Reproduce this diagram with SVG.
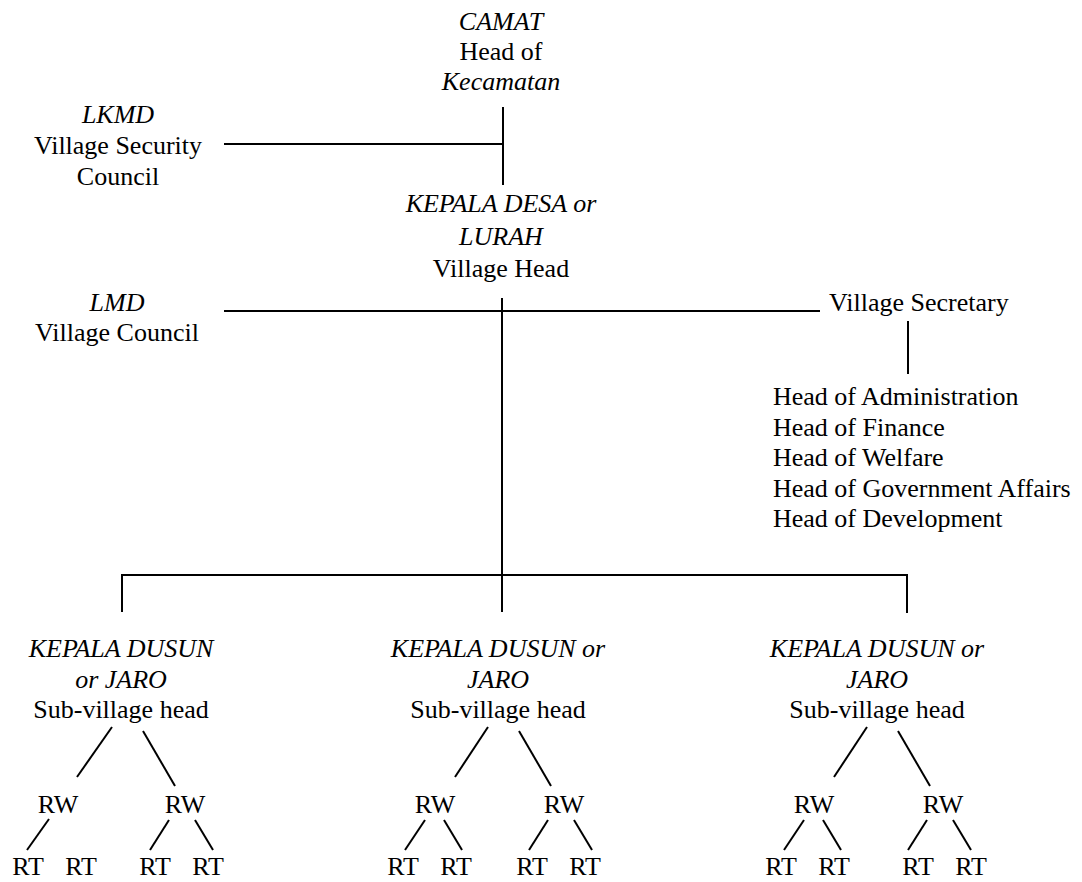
<svg xmlns="http://www.w3.org/2000/svg" width="1082" height="882" viewBox="0 0 1082 882">
<style>
text{font-family:"Liberation Serif","Times New Roman",serif;font-size:26px;fill:#000;text-anchor:middle}
.i{font-style:italic}
.l{text-anchor:start}
.c line{stroke:#000;stroke-width:2;stroke-linecap:butt}
</style>
<rect width="1082" height="882" fill="#fff"/>
<g id="camat">
<text x="501" y="30" class="i">CAMAT</text>
<text x="501" y="60">Head of</text>
<text x="501" y="90" class="i">Kecamatan</text>
</g>
<g id="lkmd">
<text x="118" y="123" class="i">LKMD</text>
<text x="118" y="154">Village Security</text>
<text x="118" y="185">Council</text>
</g>
<g id="kepala-desa">
<text x="501" y="212" class="i">KEPALA DESA or</text>
<text x="501" y="245" class="i">LURAH</text>
<text x="501" y="277">Village Head</text>
</g>
<g id="lmd">
<text x="117" y="311" class="i">LMD</text>
<text x="117" y="341">Village Council</text>
</g>
<g id="secretary">
<text x="829" y="311" class="l">Village Secretary</text>
</g>
<g id="heads">
<text x="773" y="405" class="l">Head of Administration</text>
<text x="773" y="435.5" class="l">Head of Finance</text>
<text x="773" y="466" class="l">Head of Welfare</text>
<text x="773" y="496.5" class="l">Head of Government Affairs</text>
<text x="773" y="527" class="l">Head of Development</text>
</g>
<g id="dusun1">
<text x="121" y="657" class="i">KEPALA DUSUN</text>
<text x="121" y="688" class="i">or JARO</text>
<text x="121" y="718">Sub-village head</text>
</g>
<g id="dusun2">
<text x="498" y="657" class="i">KEPALA DUSUN or</text>
<text x="498" y="688" class="i">JARO</text>
<text x="498" y="718">Sub-village head</text>
</g>
<g id="dusun3">
<text x="877" y="657" class="i">KEPALA DUSUN or</text>
<text x="877" y="688" class="i">JARO</text>
<text x="877" y="718">Sub-village head</text>
</g>
<g id="rw-rt-1">
<text x="58" y="813">RW</text><text x="185" y="813">RW</text>
<text x="28" y="875">RT</text><text x="81" y="875">RT</text><text x="155" y="875">RT</text><text x="208" y="875">RT</text>
</g>
<g id="rw-rt-2">
<text x="435" y="813">RW</text><text x="564" y="813">RW</text>
<text x="403" y="875">RT</text><text x="456" y="875">RT</text><text x="532" y="875">RT</text><text x="585" y="875">RT</text>
</g>
<g id="rw-rt-3">
<text x="814" y="813">RW</text><text x="943" y="813">RW</text>
<text x="781" y="875">RT</text><text x="834" y="875">RT</text><text x="918" y="875">RT</text><text x="971" y="875">RT</text>
</g>
<g id="connectors" class="c">
<line x1="503" y1="107" x2="503" y2="185"/>
<line x1="224" y1="144" x2="503" y2="144"/>
<line x1="502" y1="298" x2="502" y2="612"/>
<line x1="224" y1="311" x2="820" y2="311"/>
<line x1="908" y1="321" x2="908" y2="374"/>
<line x1="121" y1="575" x2="908" y2="575"/>
<line x1="122" y1="574" x2="122" y2="612"/>
<line x1="907" y1="574" x2="907" y2="613"/>
<line x1="112" y1="727" x2="77" y2="777"/>
<line x1="143" y1="731" x2="175" y2="786"/>
<line x1="49" y1="819" x2="27" y2="850"/>
<line x1="169" y1="820" x2="150" y2="850"/>
<line x1="195" y1="820" x2="213" y2="850"/>
<line x1="488" y1="727" x2="455" y2="777"/>
<line x1="519" y1="731" x2="551" y2="786"/>
<line x1="425" y1="820" x2="405" y2="850"/>
<line x1="444" y1="820" x2="462" y2="850"/>
<line x1="548" y1="820" x2="529" y2="850"/>
<line x1="574" y1="820" x2="592" y2="850"/>
<line x1="867" y1="727" x2="834" y2="777"/>
<line x1="898" y1="731" x2="930" y2="786"/>
<line x1="804" y1="820" x2="784" y2="850"/>
<line x1="823" y1="820" x2="841" y2="850"/>
<line x1="927" y1="820" x2="908" y2="850"/>
<line x1="953" y1="820" x2="971" y2="850"/>
</g>
</svg>
